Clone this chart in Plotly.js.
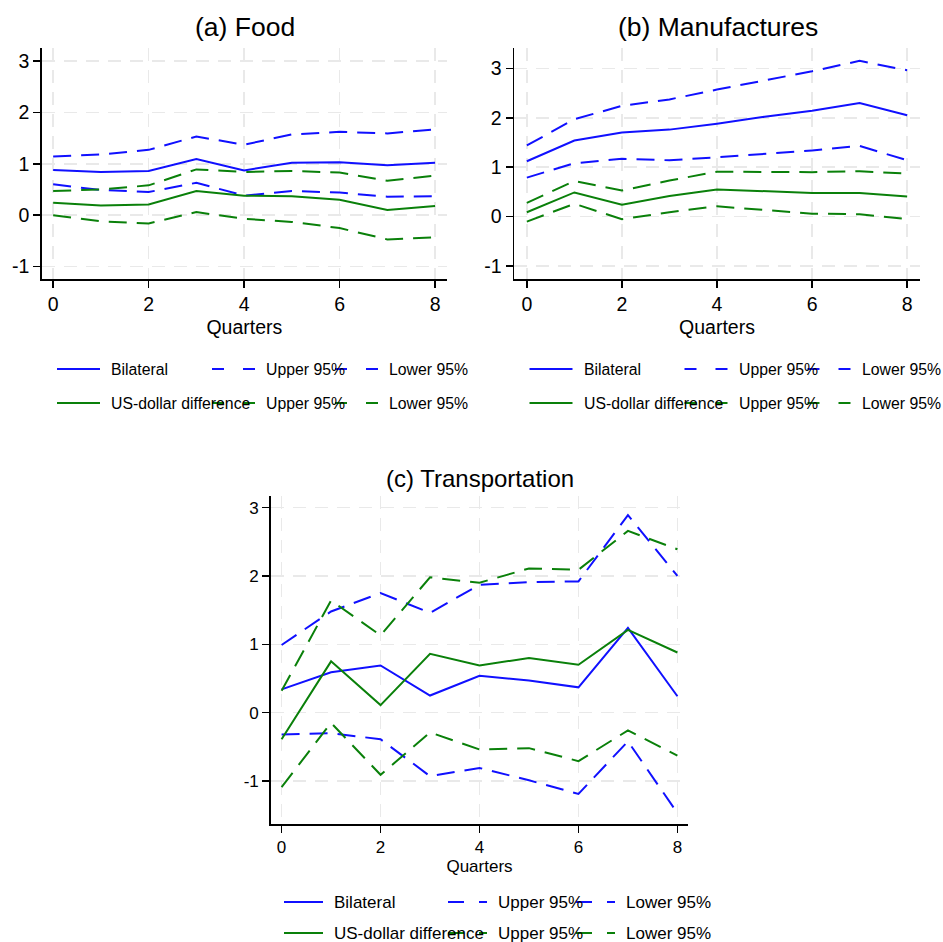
<!DOCTYPE html>
<html>
<head>
<meta charset="utf-8">
<script src="https://cdn.plot.ly/plotly-3.0.1.min.js"></script>
<style>html,body{margin:0;padding:0;background:#fff;}#chart{width:943px;height:942px;}</style>
</head>
<body>
<div id="chart"></div>
<script>
// ---------------- data ----------------
const quarters = [0, 1, 2, 3, 4, 5, 6, 7, 8];
const xTickVals = [0, 2, 4, 6, 8];
const yTickVals = [-1, 0, 1, 2, 3];
const yTickText = ["-1", "0", "1", "2", "3"];
const panelTitles = ["(a) Food", "(b) Manufactures", "(c) Transportation"];
const xAxisTitle = "Quarters";
const legendNames = ["Bilateral", "Upper 95%", "Lower 95%", "US-dollar difference", "Upper 95%", "Lower 95%"];

// (a) Food
const foodBilateral = [0.88, 0.84, 0.86, 1.09, 0.87, 1.02, 1.03, 0.97, 1.02];
const foodBilUpper  = [1.14, 1.18, 1.27, 1.53, 1.37, 1.57, 1.62, 1.59, 1.67];
const foodBilLower  = [0.60, 0.49, 0.45, 0.63, 0.38, 0.47, 0.44, 0.36, 0.37];
const foodUSD       = [0.24, 0.19, 0.21, 0.47, 0.38, 0.37, 0.30, 0.10, 0.18];
const foodUSDUpper  = [0.47, 0.50, 0.58, 0.89, 0.84, 0.86, 0.83, 0.67, 0.77];
const foodUSDLower  = [0.00, -0.12, -0.16, 0.06, -0.07, -0.13, -0.25, -0.47, -0.43];

// (b) Manufactures
const manBilateral = [1.12, 1.54, 1.70, 1.76, 1.88, 2.02, 2.14, 2.30, 2.05];
const manBilUpper  = [1.44, 1.97, 2.24, 2.37, 2.57, 2.76, 2.94, 3.15, 2.96];
const manBilLower  = [0.79, 1.08, 1.17, 1.14, 1.20, 1.27, 1.34, 1.43, 1.14];
const manUSD       = [0.09, 0.49, 0.24, 0.42, 0.55, 0.52, 0.48, 0.48, 0.41];
const manUSDUpper  = [0.28, 0.72, 0.53, 0.73, 0.91, 0.90, 0.90, 0.92, 0.87];
const manUSDLower  = [-0.10, 0.26, -0.05, 0.09, 0.21, 0.13, 0.06, 0.05, -0.05];

// (c) Transportation
const trBilateral = [0.34, 0.59, 0.69, 0.25, 0.54, 0.47, 0.37, 1.24, 0.24];
const trBilUpper  = [0.99, 1.48, 1.75, 1.46, 1.87, 1.91, 1.92, 2.89, 2.00];
const trBilLower  = [-0.32, -0.30, -0.39, -0.93, -0.81, -0.99, -1.19, -0.42, -1.47];
const trUSD       = [-0.39, 0.75, 0.11, 0.86, 0.69, 0.80, 0.70, 1.21, 0.88];
const trUSDUpper  = [0.32, 1.64, 1.13, 1.98, 1.90, 2.11, 2.09, 2.66, 2.39];
const trUSDLower  = [-1.09, -0.15, -0.91, -0.29, -0.54, -0.52, -0.71, -0.26, -0.63];

// ---------------- styles ----------------
const W = 943, H = 942;
const BLUE = "#1010ff", GREEN = "#0a800a";
const FONT = "Liberation Sans, Arial, sans-serif";
const DASH = "18px,10px";
const px = v => v / W;
const py = v => 1 - v / H;

const panels = [
  {series: [foodBilateral, foodBilUpper, foodBilLower, foodUSD, foodUSDUpper, foodUSDLower],
   xa: "x", ya: "y", xdom: [41.7, 447], ydom: [48, 279], xr: [-0.24, 8.25], yr: [-1.24, 3.25],
   tickSize: 19.5, titleSize: 26.5, titleY: 27, titleX: 245, legSize: 15.8, legRows: [369, 403],
   standoff: 6, legDash: "12px,19px",
   lines: [[57, 100], [212, 255], [335, 378]], texts: [110, 265, 388]},
  {series: [manBilateral, manBilUpper, manBilLower, manUSD, manUSDUpper, manUSDLower],
   xa: "x2", ya: "y2", xdom: [514, 920], ydom: [48, 279], xr: [-0.27, 8.27], yr: [-1.26, 3.41],
   tickSize: 19.5, titleSize: 26.5, titleY: 27, titleX: 718, legSize: 15.8, legRows: [369, 403],
   standoff: 6, legDash: "12px,19px",
   lines: [[529.5, 572.5], [684.5, 727.5], [807.5, 850.5]], texts: [582.5, 737.5, 860.5]},
  {series: [trBilateral, trBilUpper, trBilLower, trUSD, trUSDUpper, trUSDLower],
   xa: "x3", ya: "y3", xdom: [270.7, 688.3], ydom: [496, 824], xr: [-0.22, 8.22], yr: [-1.63, 3.17],
   tickSize: 17, titleSize: 24, titleY: 478, titleX: 480, legSize: 17, legRows: [902, 933],
   standoff: 3, legDash: "16px,15px",
   lines: [[284, 323], [448, 487], [576, 615]], texts: [333, 497, 625]}
];

const colors = [BLUE, BLUE, BLUE, GREEN, GREEN, GREEN];
const dashes = ["solid", DASH, DASH, "solid", DASH, DASH];

const traces = [];
const layout = {
  width: W, height: H,
  margin: {l: 0, r: 0, t: 0, b: 0},
  paper_bgcolor: "#ffffff", plot_bgcolor: "#ffffff",
  showlegend: false,
  font: {family: FONT, color: "#000000"},
  annotations: [], shapes: []
};

panels.forEach((p, i) => {
  p.series.forEach((s, k) => {
    traces.push({
      x: quarters, y: s, type: "scatter", mode: "lines",
      name: legendNames[k], xaxis: p.xa, yaxis: p.ya,
      line: {color: colors[k], width: 2, dash: dashes[k]},
      hoverinfo: "x+y"
    });
  });
  const suffix = i === 0 ? "" : String(i + 1);
  const common = {
    showline: true, linecolor: "#000000", linewidth: 1.5, mirror: false,
    ticks: "outside", ticklen: 7, tickwidth: 1.5, tickcolor: "#000000",
    showgrid: true, gridcolor: "#e9e9e9", gridwidth: 1.5, griddash: "13px,9px",
    zeroline: false, tickfont: {family: FONT, size: p.tickSize, color: "#000000"}
  };
  layout["xaxis" + suffix] = Object.assign({}, common, {
    domain: [px(p.xdom[0]), px(p.xdom[1])], range: p.xr, anchor: "y" + suffix,
    tickmode: "array", tickvals: xTickVals,
    title: {text: xAxisTitle, font: {family: FONT, size: p.tickSize, color: "#000000"}, standoff: p.standoff}
  });
  layout["yaxis" + suffix] = Object.assign({}, common, {
    domain: [py(p.ydom[1]), py(p.ydom[0])], range: p.yr, anchor: "x" + suffix,
    tickmode: "array", tickvals: yTickVals, ticktext: yTickText
  });
  layout.annotations.push({
    text: panelTitles[i], xref: "paper", yref: "paper", x: px(p.titleX), y: py(p.titleY),
    xanchor: "center", yanchor: "middle", showarrow: false,
    font: {family: FONT, size: p.titleSize, color: "#000000"}
  });
  // legend (Stata style, 2 rows x 3 columns)
  for (let k = 0; k < 6; k++) {
    const row = Math.floor(k / 3), col = k % 3;
    const yy = p.legRows[row];
    layout.shapes.push({
      type: "line", xref: "paper", yref: "paper", layer: "above",
      x0: px(p.lines[col][0]), x1: px(p.lines[col][1]), y0: py(yy), y1: py(yy),
      line: {color: colors[k], width: 2, dash: dashes[k] === "solid" ? "solid" : p.legDash}
    });
    layout.annotations.push({
      text: legendNames[k], xref: "paper", yref: "paper", x: px(p.texts[col]), y: py(yy),
      xanchor: "left", yanchor: "middle", showarrow: false, borderpad: 0,
      font: {family: FONT, size: p.legSize, color: "#000000"}
    });
  }
});

Plotly.newPlot("chart", traces, layout, {displayModeBar: false, staticPlot: true});
</script>
</body>
</html>
